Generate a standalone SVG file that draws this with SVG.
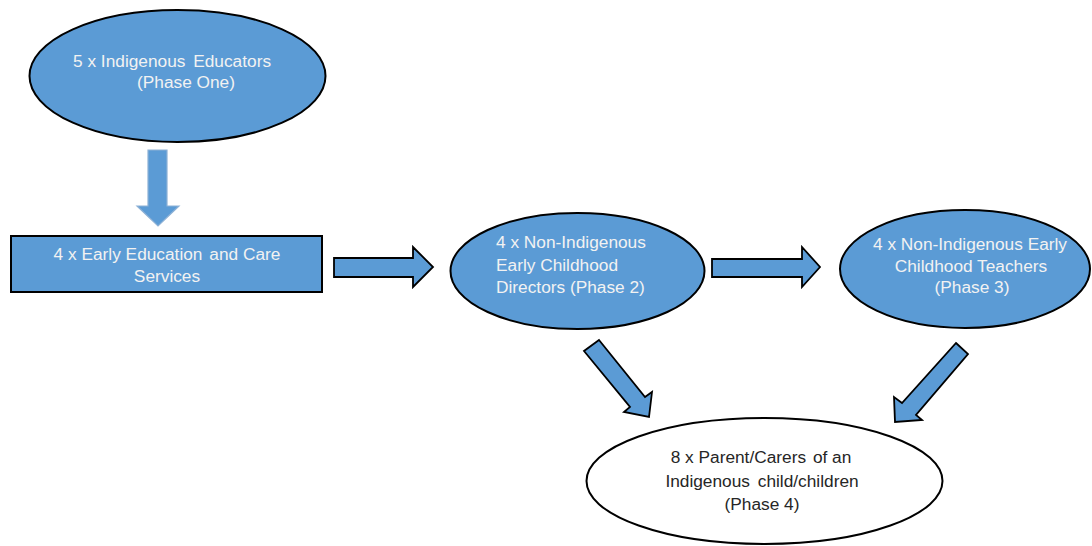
<svg xmlns="http://www.w3.org/2000/svg" width="1092" height="546" viewBox="0 0 1092 546">
  <style>
    .blue { fill: #5B9BD5; stroke: #000000; stroke-width: 2; }
    .plain { fill: #FFFFFF; stroke: #000000; stroke-width: 2; }
    .arrow { fill: #5B9BD5; stroke: #000000; stroke-width: 1.8; stroke-linejoin: miter; }
    .arrow-soft { fill: #5B9BD5; stroke: #8DB1D6; stroke-width: 1.2; }
    .lt { font-family: "Liberation Sans", Arial, sans-serif; font-size: 17.3px; fill: #F2F2F2; }
    .dk { font-family: "Liberation Sans", Arial, sans-serif; font-size: 17.3px; fill: #262626; }
    .mid { text-anchor: middle; }
  </style>
  <rect width="1092" height="546" fill="#FFFFFF"/>

  <g id="connectors">
    <!-- educators down to services -->
    <polygon class="arrow-soft" points="148,150 167,150 167,206 179,206 158,226 137,206 148,206"/>
    <!-- services to directors -->
    <polygon class="arrow" points="334,258 413,258 413,247 433,267 413,287 413,277 334,277"/>
    <!-- directors to teachers -->
    <polygon class="arrow" points="712,259 802,259 802,247 820,267 802,287 802,277 712,277"/>
    <!-- directors down to parents -->
    <polygon class="arrow" points="599,340 645,397 652,392 649,417 624,412 630,407 584,351"/>
    <!-- teachers down to parents -->
    <polygon class="arrow" points="956,343 968,354 916,415 922,420 895,422 894,397 902,403"/>
  </g>

  <g id="node-educators">
    <ellipse class="blue" cx="177.5" cy="76" rx="148" ry="66"/>
    <text class="lt" x="73" y="67">5 x Indigenous <tspan dx="3">Educators</tspan></text>
    <text class="lt" x="137" y="88">(Phase One)</text>
  </g>

  <g id="node-services">
    <rect class="blue" x="11" y="236" width="311" height="56"/>
    <text class="lt mid" x="167" y="260">4 x Early Education <tspan dx="2">and Care</tspan></text>
    <text class="lt mid" x="167" y="282">Services</text>
  </g>

  <g id="node-directors">
    <ellipse class="blue" cx="577.5" cy="271" rx="127" ry="58"/>
    <text class="lt" x="496" y="248">4 x Non-Indigenous</text>
    <text class="lt" x="496" y="271">Early Childhood</text>
    <text class="lt" x="496" y="293">Directors (Phase 2)</text>
  </g>

  <g id="node-teachers">
    <ellipse class="blue" cx="965" cy="269" rx="125" ry="59"/>
    <text class="lt mid" x="970" y="250">4 x Non-Indigenous Early</text>
    <text class="lt mid" x="971" y="272">Childhood Teachers</text>
    <text class="lt mid" x="972" y="293">(Phase 3)</text>
  </g>

  <g id="node-parents">
    <ellipse class="plain" cx="764.5" cy="481" rx="178" ry="63"/>
    <text class="dk mid" x="761" y="463">8 x Parent/Carers <tspan dx="2">of an</tspan></text>
    <text class="dk mid" x="762" y="487">Indigenous <tspan dx="3">child/children</tspan></text>
    <text class="dk mid" x="762" y="510">(Phase 4)</text>
  </g>
</svg>
